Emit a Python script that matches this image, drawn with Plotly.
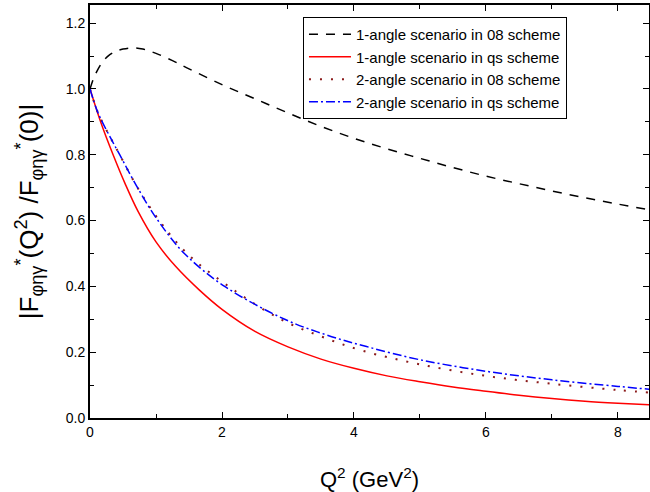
import plotly.graph_objects as go

# 1-angle scenario in 08 scheme (black dashed)
q_black = [0, 0.05, 0.1, 0.2, 0.3, 0.4, 0.5, 0.65, 0.8, 1.0, 1.25, 1.5, 2.0, 2.5, 3.0, 3.5, 4.0, 4.5, 5.0, 5.5, 6.0, 6.5, 7.0, 7.5, 8.0, 8.5]
f_black = [1.0, 1.03, 1.052, 1.085, 1.104, 1.115, 1.121, 1.125, 1.121, 1.108, 1.086, 1.061, 1.013, 0.97, 0.927, 0.886, 0.85, 0.818, 0.789, 0.761, 0.735, 0.712, 0.69, 0.669, 0.65, 0.632]

# 1-angle scenario in qs scheme (red solid)
q_red = [0, 0.17, 0.35, 0.53, 0.73, 1.0, 1.3, 1.65, 2.0, 2.5, 3.0, 3.5, 4.0, 4.5, 5.0, 5.5, 6.0, 6.5, 7.0, 7.5, 8.0, 8.5]
f_red = [1.0, 0.895, 0.80, 0.713, 0.627, 0.535, 0.46, 0.39, 0.33, 0.263, 0.216, 0.179, 0.151, 0.128, 0.11, 0.094, 0.081, 0.069, 0.059, 0.051, 0.045, 0.040]

# 2-angle scenario in 08 scheme (dotted)
q_dot = [0, 0.12, 0.32, 0.45, 0.72, 1.05, 1.47, 2.1, 2.89, 3.5, 4.12, 5.0, 6.0, 7.0, 8.0, 8.5]
f_dot = [1.0, 0.928, 0.848, 0.8, 0.7, 0.6, 0.5, 0.4, 0.3, 0.248, 0.205, 0.163, 0.128, 0.104, 0.085, 0.077]

# 2-angle scenario in qs scheme (blue dash-dot)
q_blue = [0, 0.12, 0.32, 0.45, 0.72, 1.03, 1.43, 2.04, 2.95, 3.59, 4.19, 5.0, 6.0, 7.0, 8.0, 8.5]
f_blue = [1.0, 0.928, 0.848, 0.8, 0.7, 0.6, 0.5, 0.4, 0.3, 0.252, 0.217, 0.177, 0.142, 0.116, 0.096, 0.087]

names = ["1-angle scenario in 08 scheme", "1-angle scenario in qs scheme",
         "2-angle scenario in 08 scheme", "2-angle scenario in qs scheme"]

x_ticks = [0, 2, 4, 6, 8]
y_ticks = [0.0, 0.2, 0.4, 0.6, 0.8, 1.0, 1.2]
y_tick_text = ["0.0", "0.2", "0.4", "0.6", "0.8", "1.0", "1.2"]

fig = go.Figure()
fig.add_trace(go.Scatter(x=q_black, y=f_black, mode="lines", name=names[0],
                         line=dict(color="black", width=1.5, dash="9px,8px", shape="spline")))
fig.add_trace(go.Scatter(x=q_red, y=f_red, mode="lines", name=names[1],
                         line=dict(color="#FF0000", width=1.5, shape="spline")))
fig.add_trace(go.Scatter(x=q_dot, y=f_dot, mode="lines", name=names[2],
                         line=dict(color="#8B1A1A", width=2, dash="2px,9px", shape="spline")))
fig.add_trace(go.Scatter(x=q_blue, y=f_blue, mode="lines", name=names[3],
                         line=dict(color="#0000FF", width=1.5, dash="9px,3px,2px,3px", shape="spline")))

font_family = "Liberation Sans, Arial, sans-serif"

fig.update_layout(
    width=650, height=492,
    margin=dict(l=90, r=1, t=5, b=74),
    paper_bgcolor="white", plot_bgcolor="white",
    font=dict(family=font_family, color="black", size=14),
    showlegend=True,
    legend=dict(x=0.381, y=0.971, xanchor="left", yanchor="top",
                bordercolor="black", borderwidth=1, bgcolor="white",
                font=dict(size=15), tracegroupgap=0,
                itemwidth=42),
    xaxis=dict(range=[0, 8.47], tickvals=x_ticks, ticktext=[str(v) for v in x_ticks],
               ticks="inside", ticklen=6, tickwidth=1.2, tickcolor="black",
               minor=dict(tickvals=[1, 3, 5, 7], ticks="inside", ticklen=4, tickcolor="black", tickwidth=1.2),
               showline=True, linecolor="black", linewidth=2, mirror="allticks",
               showgrid=False, zeroline=False,
               tickfont=dict(size=14),
               title=dict(text="Q<sup>2</sup> (GeV<sup>2</sup>)", font=dict(size=22), standoff=36),
               automargin=False),
    yaxis=dict(range=[0, 1.255], tickvals=y_ticks, ticktext=y_tick_text,
               ticks="inside", ticklen=6, tickwidth=1.2, tickcolor="black",
               minor=dict(tickvals=[0.1, 0.3, 0.5, 0.7, 0.9, 1.1], ticks="inside", ticklen=4,
                          tickcolor="black", tickwidth=1.2),
               showline=True, linecolor="black", linewidth=2, mirror="allticks",
               showgrid=False, zeroline=False,
               tickfont=dict(size=14),
               title=dict(text="|F<sub>φηγ</sub><sup>*</sup>(Q<sup>2</sup>) /F<sub>φηγ</sub><sup>*</sup>(0)|",
                          font=dict(size=26), standoff=20),
               automargin=False),
)

fig.write_html("out.html", config={"displayModeBar": False},
               post_script="document.body.style.margin='0';document.body.style.overflow='hidden';")
